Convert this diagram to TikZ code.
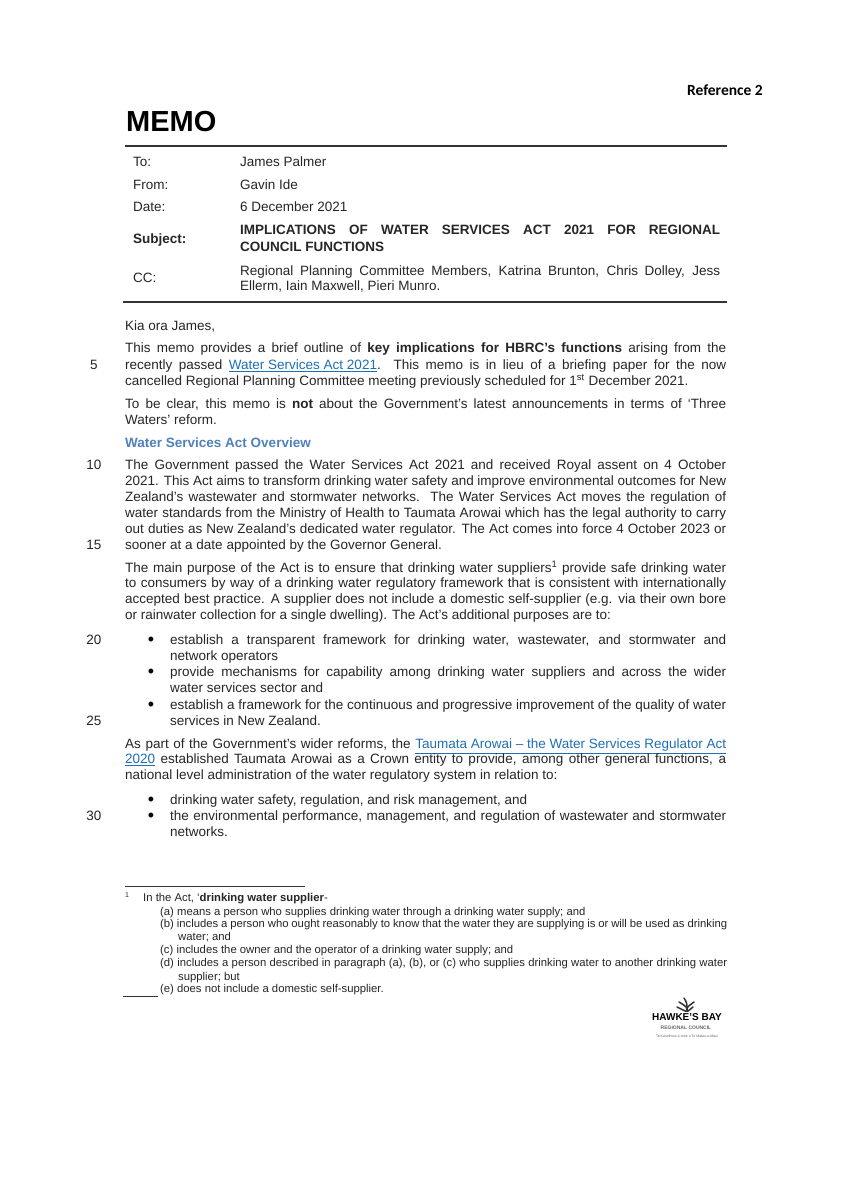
\documentclass[tikz,border=0pt]{standalone}
\usepackage{fontspec}
\setmainfont{Liberation Sans}
\newfontfamily\refont{Carlito}
\usetikzlibrary{positioning}
\definecolor{linkblue}{HTML}{1F6FB5}
\definecolor{headblue}{HTML}{4F81BD}
\definecolor{ruleblack}{HTML}{333333}
\newcommand{\fullline}[1]{\makebox[601pt][s]{#1}}
\newcommand{\bulline}[1]{\makebox[556pt][s]{#1}}
\newcommand{\tabline}[1]{\makebox[480pt][s]{#1}}
\newcommand{\footline}[1]{\makebox[567pt][s]{#1}}
\newcommand{\memolink}[1]{\textcolor{linkblue}{\underline{#1}}}

\begin{document}
\begin{tikzpicture}[x=1pt,y=-1pt,
            every node/.style={inner sep=0pt,anchor=mid west},
            bodytext/.style={font=\fontsize{13.5}{15}\selectfont,text=black!85},
            boldtext/.style={font=\bfseries\fontsize{13.5}{15}\selectfont,text=black!85},
            foottext/.style={font=\fontsize{11.3}{13}\selectfont,text=black!85},
            linenum/.style={bodytext,anchor=mid},
            bulletmark/.style={font=\fontsize{18}{18}\selectfont,text=black,anchor=mid},
            memorule/.style={line width=1.3pt,ruleblack}]
        \useasboundingbox[fill=white] (0,0) rectangle (844,1193);

        % header
        \node[font=\refont\bfseries\fontsize{15.5}{17}\selectfont,anchor=mid east] (refno) at (763,92.5) {Reference 2};
        \node[font=\bfseries\fontsize{29}{32}\selectfont] (memo) at (126,128.5) {MEMO};
        \coordinate (topl) at (125,146);
        \coordinate (topr) at (727,146);
        \coordinate (botl) at (123,302);
        \coordinate (botr) at (727,302);
        \draw[memorule] (topl) -- (topr);
        \draw[memorule] (botl) -- (botr);

        \node[bodytext] (tolab) at (133,164) {To:};
        \node[bodytext] (toval) at (240,164) {James Palmer};
        \node[bodytext] (fromlab) at (133,187) {From:};
        \node[bodytext] (fromval) at (240,187) {Gavin Ide};
        \node[bodytext] (datelab) at (133,209) {Date:};
        \node[bodytext] (dateval) at (240,209) {6 December 2021};
        \node[boldtext] (sublab) at (133,241) {Subject:};
        \node[boldtext] (suba) at (240,232) {\tabline{IMPLICATIONS OF WATER SERVICES ACT 2021 FOR REGIONAL}};
        \node[boldtext] (subb) at (240,249) {COUNCIL FUNCTIONS};
        \node[bodytext] (cclab) at (133,280) {CC:};
        \node[bodytext] (cca) at (240,273) {\tabline{Regional Planning Committee Members, Katrina Brunton, Chris Dolley, Jess}};
        \node[bodytext] (ccb) at (240,288) {Ellerm, Iain Maxwell, Pieri Munro.};

        % body
        \node[bodytext] (kia) at (125,328) {Kia ora James,};
        \node[bodytext] (paa) at (125,350) {\fullline{This memo provides a brief outline of \textbf{key implications for HBRC's functions} arising from the}};
        \node[bodytext] (pab) at (125,367) {\fullline{recently passed \memolink{Water Services Act 2021}.\ \ This memo is in lieu of a briefing paper for the now}};
        \node[bodytext] (pac) at (125,383) {cancelled Regional Planning Committee meeting previously scheduled for 1\textsuperscript{st} December 2021.};
        \node[bodytext] (pba) at (125,406) {\fullline{To be clear, this memo is \textbf{not} about the Government's latest announcements in terms of ‘Three}};
        \node[bodytext] (pbb) at (125,422) {Waters' reform.};
        \node[boldtext,text=headblue] (overview) at (125,445) {Water Services Act Overview};
        \node[bodytext] (pca) at (125,467) {\fullline{The Government passed the Water Services Act 2021 and received Royal assent on 4 October}};
        \node[bodytext] (pcb) at (125,483) {\fullline{2021. This Act aims to transform drinking water safety and improve environmental outcomes for New}};
        \node[bodytext] (pcc) at (125,499) {\fullline{Zealand's wastewater and stormwater networks.\ \ The Water Services Act moves the regulation of}};
        \node[bodytext] (pcd) at (125,515) {\fullline{water standards from the Ministry of Health to Taumata Arowai which has the legal authority to carry}};
        \node[bodytext] (pce) at (125,531) {\fullline{out duties as New Zealand's dedicated water regulator. The Act comes into force 4 October 2023 or}};
        \node[bodytext] (pcf) at (125,547) {sooner at a date appointed by the Governor General.};
        \node[bodytext] (pda) at (125,570) {\fullline{The main purpose of the Act is to ensure that drinking water suppliers\textsuperscript{1} provide safe drinking water}};
        \node[bodytext] (pdb) at (125,585) {\fullline{to consumers by way of a drinking water regulatory framework that is consistent with internationally}};
        \node[bodytext] (pdc) at (125,601) {\fullline{accepted best practice. A supplier does not include a domestic self-supplier (e.g. via their own bore}};
        \node[bodytext] (pdd) at (125,617) {or rainwater collection for a single dwelling). The Act's additional purposes are to:};

        \node[bulletmark] (bula) at (151,643) {•};
        \node[bodytext] (bulaa) at (170,642) {\bulline{establish a transparent framework for drinking water, wastewater, and stormwater and}};
        \node[bodytext] (bulab) at (170,658) {network operators};
        \node[bulletmark] (bulb) at (151,675) {•};
        \node[bodytext] (bulba) at (170,674) {\bulline{provide mechanisms for capability among drinking water suppliers and across the wider}};
        \node[bodytext] (bulbb) at (170,690) {water services sector and};
        \node[bulletmark] (bulc) at (151,708) {•};
        \node[bodytext] (bulca) at (170,707) {\bulline{establish a framework for the continuous and progressive improvement of the quality of water}};
        \node[bodytext] (bulcb) at (170,722.5) {services in New Zealand.};

        \node[bodytext] (pea) at (125,746) {\fullline{As part of the Government's wider reforms, the \memolink{Taumata Arowai – the Water Services Regulator Act}}};
        \node[bodytext] (peb) at (125,761) {\fullline{\memolink{2020} established Taumata Arowai as a Crown entity to provide, among other general functions, a}};
        \node[bodytext] (pec) at (125,777) {national level administration of the water regulatory system in relation to:};
        \node[bulletmark] (buld) at (151,803) {•};
        \node[bodytext] (bulda) at (170,802) {drinking water safety, regulation, and risk management, and};
        \node[bulletmark] (bule) at (151,819) {•};
        \node[bodytext] (bulea) at (170,818) {\bulline{the environmental performance, management, and regulation of wastewater and stormwater}};
        \node[bodytext] (buleb) at (170,834) {networks.};

        % line numbers
        \foreach \nr/\ypos in {5/367,10/467,15/547,20/642,25/722.5,30/818}
            \node[linenum] (num\nr) at (94,\ypos) {\nr};

        % footnote
        \coordinate (fnl) at (125,886);
        \coordinate (fnr) at (305,886);
        \draw[line width=.9pt,ruleblack] (fnl) -- (fnr);
        \node[foottext,font=\fontsize{7}{8}\selectfont] (fnmark) at (125,895) {1};
        \node[foottext] (fna) at (143,899) {In the Act, ‘\textbf{drinking water supplier}-};
        \node[foottext] (fnaa) at (160,913) {(a) means a person who supplies drinking water through a drinking water supply; and};
        \node[foottext] (fnba) at (160,925) {\footline{(b) includes a person who ought reasonably to know that the water they are supplying is or will be used as drinking}};
        \node[foottext] (fnbb) at (178,938) {water; and};
        \node[foottext] (fnca) at (160,951) {(c) includes the owner and the operator of a drinking water supply; and};
        \node[foottext] (fnda) at (160,964) {\footline{(d) includes a person described in paragraph (a), (b), or (c) who supplies drinking water to another drinking water}};
        \node[foottext] (fndb) at (178,978) {supplier; but};
        \node[foottext] (fnea) at (160,990) {(e) does not include a domestic self-supplier.};
        \coordinate (shortl) at (123,996);
        \coordinate (shortr) at (158,996);
        \draw[line width=.9pt,ruleblack] (shortl) -- (shortr);

        % logo
        \foreach \sx/\sy in {684/998, 679/1002, 677/1007, 694/1002, 693/1007}
            \draw[line width=1.5pt,line cap=round,black!80] (\sx,\sy) .. controls (687,{\sy+5}) .. (687,1011);
        \node[font=\bfseries\fontsize{10}{11}\selectfont,anchor=mid] (hawkes) at (687,1018) {HAWKE'S BAY};
        \node[font=\bfseries\fontsize{5}{6}\selectfont,text=black!60,anchor=mid] (council) at (686,1027) {REGIONAL COUNCIL};
        \node[font=\fontsize{3.5}{4}\selectfont,text=black!60,anchor=mid] (maori) at (687,1035) {Te Kaunihera ā-rohe o Te Matau-a-Māui};
    \end{tikzpicture}
\end{document}
